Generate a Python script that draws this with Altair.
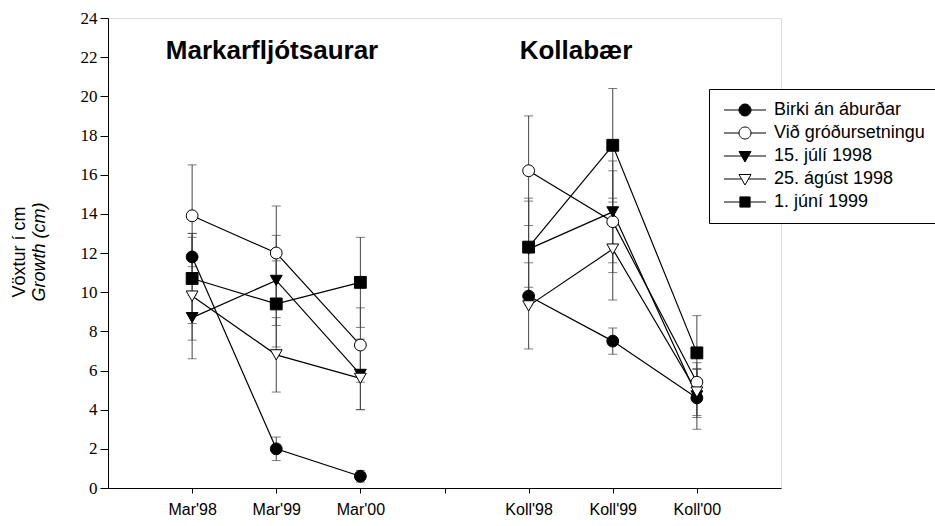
import json
import altair as alt
import pandas as pd

# ---- data ----
sites = ["Mar'98", "Mar'99", "Mar'00", "Koll'98", "Koll'99", "Koll'00"]
site_pos = [1, 2, 3, 5, 6, 7]
site_group = ["Mar", "Mar", "Mar", "Koll", "Koll", "Koll"]
tick_values = [1, 2, 3, 4, 5, 6, 7]
tick_labels = ["Mar'98", "Mar'99", "Mar'00", "", "Koll'98", "Koll'99", "Koll'00"]

series_names = ["Birki án áburðar", "Við gróðursetningu", "15. júlí 1998",
                "25. ágúst 1998", "1. júní 1999"]

birki = [11.8, 2.0, 0.6, 9.8, 7.5, 4.6]
birki_err = [1.0, 0.6, 0.3, 0.45, 0.67, 1.0]
vid = [13.9, 12.0, 7.3, 16.2, 13.6, 5.4]
vid_err = [2.6, 2.4, 1.9, 2.8, 2.6, 0.65]
juli = [8.7, 10.6, 5.8, 12.2, 14.1, 4.7]
juli_err = [1.15, 2.3, 1.8, 2.45, 2.6, 1.7]
agust = [9.8, 6.8, 5.6, 9.3, 12.2, 4.9]
agust_err = [3.2, 1.9, 1.6, 2.2, 2.6, 1.2]
juni = [10.7, 9.4, 10.5, 12.3, 17.5, 6.9]
juni_err = [2.3, 2.2, 2.3, 2.5, 2.9, 1.9]

panel_titles = ["Markarfljótsaurar", "Kollabær"]
y_title_1 = "Vöxtur í cm"
y_title_2 = "Growth (cm)"

means = [birki, vid, juli, agust, juni]
errs = [birki_err, vid_err, juli_err, agust_err, juni_err]

rows = []
for name, m, e in zip(series_names, means, errs):
    for s, p, g, v, d in zip(sites, site_pos, site_group, m, e):
        rows.append({"series": name, "site": s, "pos": p, "grp": g,
                     "val": v, "lo": v - d, "hi": v + d})
df = pd.DataFrame(rows)

# ---- styling ----
FONT = "Liberation Sans"
SERIF = "Liberation Serif, Times New Roman, serif"
point_shapes = ["circle", "circle", "triangle-down", "triangle-down", "square"]
point_fills = ["black", "white", "black", "white", "black"]
legend_paths = [
    "M-3.5,0H-1M1,0H3.5M1,0A1,1,0,1,1,-1,0A1,1,0,1,1,1,0Z",
    "M-3.5,0H-1M1,0H3.5M1,0A1,1,0,1,1,-1,0A1,1,0,1,1,1,0Z",
    "M-3.5,0H-0.57M0.57,0H3.5M-1,-0.75L1,-0.75L0,1Z",
    "M-3.5,0H-0.57M0.57,0H3.5M-1,-0.75L1,-0.75L0,1Z",
    "M-3.5,0H-0.85M0.85,0H3.5M-0.85,-0.85H0.85V0.85H-0.85Z",
]

label_expr = " : ".join(
    f"datum.value == {v} ? {json.dumps(l)}" for v, l in zip(tick_values, tick_labels)
) + ' : ""'

xscale = alt.Scale(domain=[0, 8], nice=False, zero=False)
yscale = alt.Scale(domain=[0, 24], nice=False)
xaxis = alt.Axis(values=tick_values, labelExpr=label_expr, title=None, grid=False,
                 tickSize=5, tickColor="black", domainColor="black",
                 labelFont=FONT, labelFontSize=16, labelColor="black",
                 labelPadding=8, labelFlush=False, labelOverlap=False)
yaxis = alt.Axis(values=list(range(0, 25, 2)), title=None, grid=False,
                 tickSize=8, tickColor="black", domainColor="black",
                 labelFont=SERIF, labelFontSize=17, labelColor="black",
                 labelPadding=3)

X = alt.X("pos:Q", scale=xscale, axis=xaxis)
Y = alt.Y("val:Q", scale=yscale, axis=yaxis)

base = alt.Chart(df)

bars = base.mark_rule(color="#444", strokeWidth=1).encode(
    x=X, y=alt.Y("lo:Q", scale=yscale, axis=yaxis), y2="hi:Q")

caps = base.transform_fold(["lo", "hi"], as_=["k", "capv"]).mark_tick(
    orient="horizontal", size=9, thickness=1, color="#444").encode(
    x=X, y=alt.Y("capv:Q", scale=yscale, axis=yaxis))

lines = base.mark_line(color="black", strokeWidth=1.2).encode(
    x=X, y=Y, detail=["series:N", "grp:N"], order="pos:Q")

points = base.mark_point(filled=True, opacity=1, stroke="black", strokeWidth=1,
                         size=140).encode(
    x=X, y=Y,
    shape=alt.Shape("series:N", scale=alt.Scale(domain=series_names, range=point_shapes),
                    legend=None),
    fill=alt.Fill("series:N", scale=alt.Scale(domain=series_names, range=point_fills),
                  legend=None),
)

leg = alt.Legend(orient="none", legendX=601, legendY=71, title=None,
                 labelFont=FONT, labelFontSize=18, labelColor="black", labelLimit=400,
                 symbolSize=144, symbolOffset=15, labelOffset=20, padding=12,
                 rowPadding=5, strokeColor="black", fillColor="white",
                 symbolStrokeColor="black", symbolStrokeWidth=1, cornerRadius=0)

legend_layer = base.transform_filter("datum.val > 999").mark_point(
    filled=True, opacity=1, strokeWidth=1).encode(
    x=X, y=Y,
    shape=alt.Shape("series:N", scale=alt.Scale(domain=series_names, range=legend_paths),
                    legend=leg),
    fill=alt.Fill("series:N", scale=alt.Scale(domain=series_names, range=point_fills),
                  legend=leg),
    stroke=alt.Stroke("series:N", scale=alt.Scale(domain=series_names, range=["black"] * 5),
                      legend=leg),
)

def text_layer(txt, x, y, size, weight="normal", style="normal", angle=0):
    kw = dict(font=FONT, fontSize=size, fontWeight=weight, fontStyle=style,
              align="center", baseline="alphabetic", color="black")
    if angle:
        kw["angle"] = angle
        kw["baseline"] = "middle"
    return alt.Chart(pd.DataFrame({"t": [txt]})).mark_text(**kw).encode(
        text="t:N", x=alt.value(x), y=alt.value(y))

t1 = text_layer(panel_titles[0], 164, 41, 26, weight="bold")
t2 = text_layer(panel_titles[1], 468, 41, 26, weight="bold")
yt1 = text_layer(y_title_1, -88, 234, 18, angle=270)
yt2 = text_layer(y_title_2, -68, 234, 18, style="italic", angle=270)

chart = alt.layer(bars, caps, lines, points, legend_layer, t1, t2, yt1, yt2).resolve_scale(
    shape="independent", fill="independent", stroke="independent"
).properties(
    width=673, height=470,
    padding={"left": 108, "top": 18, "right": 154, "bottom": 38},
    autosize=alt.AutoSizeParams(type="none"),
).configure_view(stroke="black", strokeWidth=1).configure(background="white")

chart.save("out.html", embed_options={"renderer": "svg", "actions": False})
